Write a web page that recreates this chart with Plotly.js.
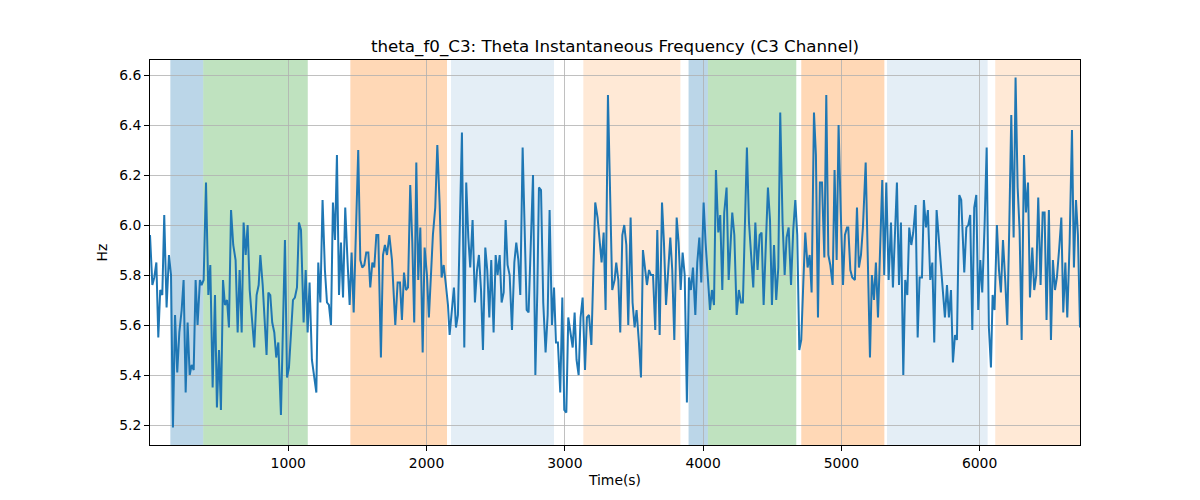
<!DOCTYPE html>
<html>
<head>
<meta charset="utf-8">
<script src="https://cdn.plot.ly/plotly-3.0.1.min.js"></script>
<style>html,body{margin:0;padding:0;background:#fff;}#chart{width:1200px;height:500px;}</style>
</head>
<body>
<div id="chart"></div>
<script>
// Time (s) of each sample
const timeSec = [
0,17,31,46,60,74,89,103,120,137,152,166,181,197,212,229,243,258,272,287,301,316,330,344,361,373,388,405,422,436,453,470,484,499,513,528,542,557,571,586,602,619,634,648,663,677,692,706,721,754,771,786,798,815,843,
856,870,884,899,913,928,947,976,991,1005,1019,1034,1048,1063,1077,1092,1111,1126,1140,1154,1171,1188,1203,1217,1232,1248,1265,1280,1294,1309,1323,1338,1352,1367,1381,1396,1412,1429,1444,1458,1473,1506,1521,1535,1550,1564,1579,1593,1608,1622,1637,1651,1670,1685,
1699,1714,1731,1750,1774,1791,1808,1822,1837,1851,1866,1882,1897,1911,1926,1940,1955,1972,1986,2003,2017,2046,2063,2078,2095,2109,2124,2140,2155,2167,2184,2198,2213,2227,2242,2256,2273,2287,2302,2316,2333,2350,2365,2379,2394,2408,2425,2439,2454,2468,2485,2500,2514,2529,
2543,2558,2572,2586,2601,2618,2635,2649,2664,2678,2695,2709,2724,2738,2753,2770,2787,2801,2813,2828,2844,2861,2876,2890,2907,2922,2936,2950,2967,2982,2996,3011,3025,3040,3057,3071,3085,3100,3114,3129,3146,3160,3175,3192,3206,3220,3237,3252,3266,3281,3295,3312,3329,3343,3360,3372,
3387,3401,3416,3430,3445,3459,3476,3490,3505,3519,3536,3551,3565,3580,3594,3609,3623,3638,3654,3669,3686,3703,3717,3732,3746,3763,3777,3792,3809,3823,3838,3852,3867,3883,3898,3912,3927,3944,3958,3973,3987,4004,4018,4033,4050,4064,4079,4093,4110,4124,4139,4153,4170,4185,
4211,4226,4243,4259,4274,4288,4303,4317,4332,4346,4363,4378,4394,4409,4423,4438,4455,4469,4484,4498,4513,4529,4544,4558,4575,4590,4604,4619,4636,4652,4667,4681,4696,4710,4725,4739,4756,4771,4785,4802,4816,4831,4845,4860,4877,4891,4906,4920,4937,4951,4966,4980,4995,5012,5026,5041,
5050,5065,5079,5098,5113,5127,5142,5156,5176,5207,5221,5236,5250,5265,5279,5296,5310,5325,5342,5359,5373,5388,5402,5417,5431,5448,5462,5477,5491,5506,5520,5537,5552,5566,5583,5597,5612,5626,5643,5658,5672,5689,5706,5720,5735,5749,5764,5778,5793,5807,5822,5836,5853,5867,
5889,5904,5918,5932,5947,5961,5976,5990,6005,6019,6036,6051,6067,6082,6094,6108,6125,6140,6154,6169,6186,6200,6214,6229,6246,6260,6275,6289,6304,6321,6335,6350,6364,6381,6395,6410,6424,6441,6456,6470,6484,6501,6516,6530,6545,6559,6576,6591,6605,6620,6634,6651,6668,6682,6697,6711,6726
];
// Theta instantaneous frequency (Hz)
const freqHz = [
5.96,5.76,5.79,5.85,5.55,5.74,5.72,6.04,5.67,5.88,5.80,5.19,5.64,5.41,5.57,5.66,5.78,5.33,5.61,5.40,5.44,5.42,5.78,5.60,5.78,5.76,5.78,6.17,5.72,5.84,5.35,5.72,5.27,5.50,5.26,5.78,5.68,5.70,5.59,6.06,5.92,5.86,5.57,5.82,5.57,6.01,5.88,6.00,5.74,5.51,5.72,5.76,5.88,5.76,5.48,
5.73,5.72,5.61,5.57,5.47,5.53,5.24,5.94,5.39,5.43,5.58,5.70,5.71,5.75,6.01,5.98,5.61,5.82,5.57,5.77,5.46,5.40,5.33,5.85,5.69,6.10,5.82,5.69,5.68,5.60,6.09,5.94,6.28,5.72,5.93,5.71,6.07,5.85,5.68,5.89,5.65,6.30,5.86,5.83,5.84,5.89,5.89,5.75,5.85,5.83,5.96,5.96,5.47,5.88,
5.92,5.88,5.96,5.86,5.60,5.77,5.77,5.62,5.81,5.74,5.75,6.16,5.93,5.61,6.25,5.78,5.99,5.49,5.91,5.80,5.63,5.96,6.07,6.32,6.08,5.79,5.84,5.76,5.68,5.56,5.68,5.75,5.59,5.64,6.03,6.37,5.51,6.17,5.95,5.83,6.02,5.69,5.82,5.88,5.74,5.50,5.91,5.82,5.63,5.86,5.57,5.88,5.80,5.88,
5.69,5.73,6.02,5.84,5.80,5.58,5.85,5.93,5.86,5.72,6.31,5.98,5.66,5.65,5.93,6.20,5.40,5.73,6.15,6.14,5.69,5.49,5.64,6.06,5.60,5.75,5.53,5.53,5.33,5.71,5.26,5.25,5.63,5.57,5.51,5.65,5.46,5.40,5.63,5.71,5.42,5.63,5.64,5.52,5.82,6.09,6.03,5.92,5.85,5.97,5.66,6.52,6.02,5.74,5.78,5.85,
5.78,5.57,5.96,6.00,5.92,5.60,6.03,5.69,5.59,5.66,5.53,5.39,5.90,5.82,5.76,5.82,5.80,5.80,5.58,5.98,5.56,6.09,5.93,5.68,5.82,5.95,5.82,5.54,6.03,5.93,5.74,5.89,5.80,5.29,5.79,5.74,5.83,5.64,5.85,5.95,5.77,6.09,5.93,5.82,5.66,5.74,5.68,6.22,5.97,6.04,5.74,6.05,6.15,5.78,
6.05,5.96,5.64,5.74,5.69,5.69,5.98,6.31,6.01,5.88,5.75,6.01,5.82,5.96,5.97,5.68,5.98,6.15,6.02,5.68,5.92,5.70,5.83,6.45,6.01,5.80,5.95,5.99,5.76,5.98,6.10,5.96,5.50,5.54,5.77,5.97,5.83,5.88,5.73,6.45,6.28,5.63,6.17,6.17,5.87,6.52,5.88,5.84,5.76,6.22,5.86,6.40,6.06,5.76,5.96,5.99,
5.99,5.82,5.79,5.78,6.07,5.83,5.88,5.99,6.25,5.47,5.80,5.70,5.85,5.63,5.88,6.18,5.80,6.17,5.78,6.01,5.75,5.95,6.17,5.76,6.01,5.40,5.78,5.72,5.99,5.92,5.97,6.08,5.55,5.79,5.79,6.10,5.99,6.06,5.78,5.85,5.53,6.06,5.94,5.82,5.74,5.63,5.76,5.63,5.74,5.45,5.56,5.54,6.12,6.10,
5.81,5.99,6.00,6.04,5.58,6.07,6.12,5.66,5.86,5.73,6.00,6.31,5.59,5.43,5.72,5.66,6.00,5.82,5.73,5.94,5.77,5.60,5.98,6.44,5.95,6.59,6.15,5.98,5.54,6.28,6.05,6.17,5.71,5.91,5.74,5.80,6.11,5.76,6.05,6.05,5.62,6.06,5.54,5.86,5.74,5.79,5.91,6.03,5.65,5.85,5.63,5.93,6.38,5.83,6.10,5.96,5.59
];
// Shaded intervals (s) and their category
const bandStart = [147, 385, 1449, 2177, 3134, 3895, 4035, 4710, 5330, 6113];
const bandEnd   = [385, 1141, 2148, 2922, 3836, 4035, 4674, 5311, 6058, 6726];
const bandKind  = ['blue','green','orange','lightblue','lightorange','blue','green','orange','lightblue','lightorange'];
// Tick values
const yTicks = [5.2, 5.4, 5.6, 5.8, 6.0, 6.2, 6.4, 6.6];
const xTicks = [1000, 2000, 3000, 4000, 5000, 6000];

const kindColor = {
  blue: 'rgba(31,119,180,0.3)',
  green: 'rgba(44,160,44,0.3)',
  orange: 'rgba(255,127,14,0.3)',
  lightblue: 'rgba(31,119,180,0.12)',
  lightorange: 'rgba(255,127,14,0.17)'
};

const shapes = bandStart.map((s, i) => ({
  type: 'rect', xref: 'x', yref: 'paper', x0: s, x1: bandEnd[i], y0: 0, y1: 1,
  fillcolor: kindColor[bandKind[i]], line: {width: 0}, layer: 'below'
}));

const trace = {
  x: timeSec, y: freqHz, type: 'scatter', mode: 'lines',
  line: {color: '#1f77b4', width: 2}, hoverinfo: 'skip'
};

const font = {family: 'DejaVu Sans, sans-serif', size: 13.9, color: '#000'};
const layout = {
  width: 1200, height: 500,
  margin: {l: 150, r: 120, t: 60, b: 55},
  paper_bgcolor: '#fff', plot_bgcolor: '#fff',
  font: font,
  showlegend: false,
  title: {text: 'theta_f0_C3: Theta Instantaneous Frequency (C3 Channel)',
          font: {family: 'DejaVu Sans, sans-serif', size: 16.7, color: '#000'},
          x: 0.5125, xanchor: 'center', y: 0.908, yref: 'container', yanchor: 'middle'},
  xaxis: {
    range: [0, 6726], tickvals: xTicks, ticktext: xTicks.map(String),
    showgrid: true, gridcolor: '#b0b0b0', gridwidth: 0.8,
    ticks: 'outside', ticklen: 5, tickcolor: '#000', tickwidth: 1,
    showline: true, linecolor: '#000', linewidth: 1, mirror: true, zeroline: false,
    title: {text: 'Time(s)', font: font, standoff: 5}
  },
  yaxis: {
    range: [5.12, 6.66], tickvals: yTicks, ticktext: yTicks.map(v => v.toFixed(1)),
    showgrid: true, gridcolor: '#b0b0b0', gridwidth: 0.8,
    ticks: 'outside', ticklen: 5, tickcolor: '#000', tickwidth: 1,
    showline: true, linecolor: '#000', linewidth: 1, mirror: true, zeroline: false,
    title: {text: 'Hz', font: font, standoff: 8}
  },
  shapes: shapes
};

Plotly.newPlot('chart', [trace], layout, {displayModeBar: false, staticPlot: true});
</script>
</body>
</html>
